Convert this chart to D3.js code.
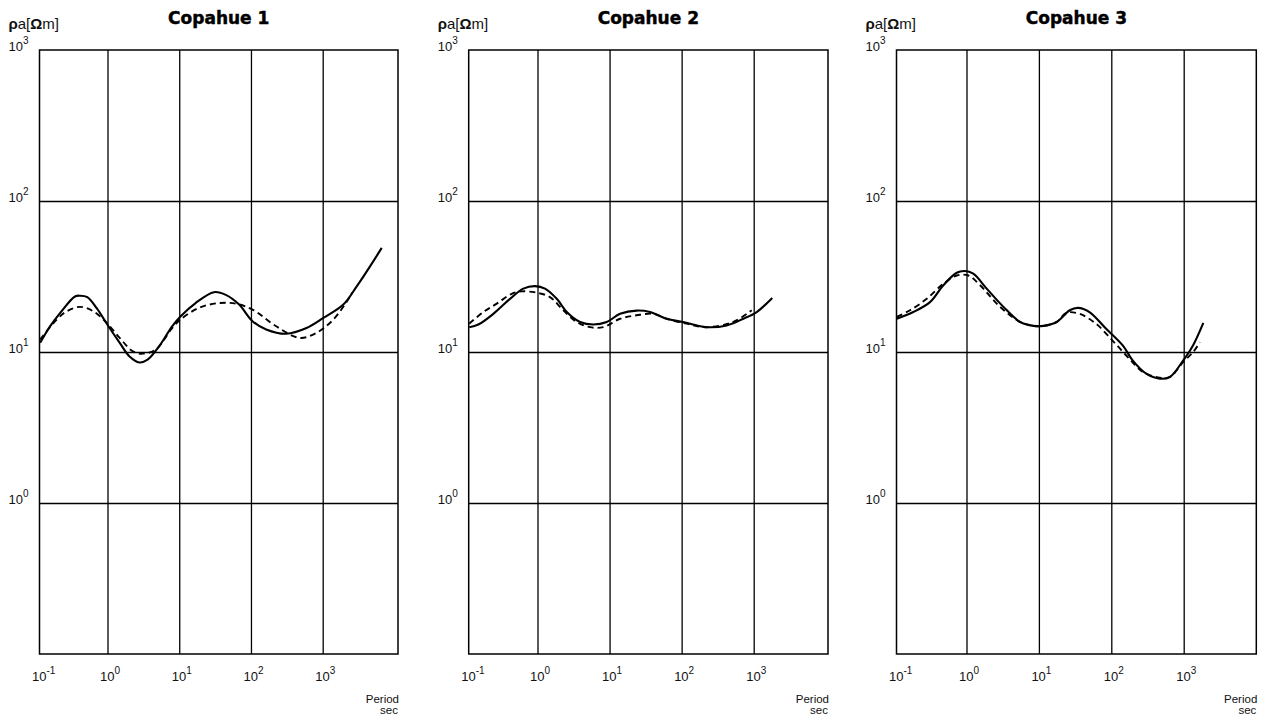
<!DOCTYPE html>
<html>
<head>
<meta charset="utf-8">
<script src="https://d3js.org/d3.v7.min.js"></script>
<style>
body { margin: 0; background: #fff; }
.grid line { stroke: #000; stroke-width: 1.3; }
.grid path { stroke-width: 0; }
.lbl { font-family: "Liberation Sans", Arial, sans-serif; fill: #111; }
.title { font-family: "DejaVu Sans", sans-serif; font-weight: bold; font-size: 17px; fill: #000; stroke: #000; stroke-width: 0.45; }
</style>
</head>
<body>
<svg id="chart" width="1262" height="722"></svg>
<script>
// station names
var titles = ["Copahue 1", "Copahue 2", "Copahue 3"];

// Copahue 1 - solid curve
var c1Period = [0.115, 0.158, 0.218, 0.352, 0.414, 0.523, 0.707, 1.03, 1.48, 2.03, 2.79, 3.62, 5.24, 7.96, 10.4, 16.9, 30.5, 44.6, 68.4, 105, 163, 311, 595, 1020, 1940, 2980, 4570, 6650];
var c1Rho    = [11.5, 14.8, 18.1, 23.3, 23.6, 23.1, 19.5, 14.8, 11.5, 9.35, 8.53, 8.89, 10.9, 14.8, 17.2, 21.1, 24.9, 23.9, 20.6, 16.0, 14.1, 13.2, 14.4, 16.8, 20.6, 27.2, 36.9, 48.9];
// Copahue 1 - dashed curve
var c1DPeriod = [0.115, 0.196, 0.270, 0.414, 0.634, 0.975, 1.48, 2.26, 3.09, 4.72, 7.96, 10.4, 18.8, 35.9, 61.5, 105, 225, 479, 822, 1406, 2400, 2560];
var c1DRho    = [12.1, 16.4, 18.6, 19.9, 18.6, 15.6, 12.4, 10.1, 9.75, 10.4, 14.4, 16.4, 19.6, 21.1, 20.9, 19.1, 14.8, 12.4, 13.4, 16.4, 23.3, 24.7];

// Copahue 2 - solid curve
var c2Period = [0.113, 0.151, 0.244, 0.415, 0.636, 0.923, 1.27, 1.85, 2.55, 3.89, 5.96, 9.14, 14.0, 23.8, 36.4, 62.0, 105, 222, 422, 718, 1100, 1810];
var c2Rho    = [14.6, 15.2, 17.9, 22.5, 26.3, 27.3, 26.3, 22.5, 18.4, 15.8, 15.2, 15.8, 17.9, 18.8, 18.4, 16.6, 15.8, 14.6, 15.0, 16.6, 18.4, 22.8];
// Copahue 2 - dashed curve
var c2DPeriod = [0.113, 0.177, 0.272, 0.439, 0.604, 0.975, 1.49, 2.28, 3.50, 5.36, 8.20, 14.0, 23.8, 40.5, 62.0, 117, 222, 521, 938];
var c2DRho    = [15.4, 18.4, 20.9, 24.3, 25.2, 24.7, 23.1, 18.9, 15.8, 14.6, 14.6, 16.6, 17.5, 17.9, 16.6, 15.4, 14.6, 15.8, 18.9];

// Copahue 3 - solid curve
var c3Period = [0.109, 0.184, 0.313, 0.479, 0.733, 0.95, 1.24, 1.90, 3.24, 5.51, 8.41, 11.6, 17.6, 26.7, 34.6, 49.9, 84.2, 143, 197, 304, 467, 644, 987, 1350, 1866];
var c3Rho    = [16.6, 18.4, 21.4, 27.7, 33.5, 34.4, 33.0, 26.3, 19.9, 15.8, 14.9, 14.9, 15.8, 18.9, 19.6, 18.4, 14.3, 11.1, 8.81, 7.19, 6.66, 6.83, 8.81, 11.1, 15.6];
// Copahue 3 - dashed curve
var c3DPeriod = [0.109, 0.166, 0.282, 0.479, 0.733, 1.06, 1.54, 2.91, 5.51, 8.41, 11.6, 17.6, 24.0, 36.5, 61.5, 104, 177, 272, 467, 644, 987, 1350, 1680];
var c3DRho    = [17.1, 18.9, 22.5, 28.3, 32.1, 32.1, 27.7, 19.9, 15.8, 14.9, 14.9, 15.8, 18.2, 17.9, 15.4, 11.9, 9.04, 7.38, 6.76, 6.83, 8.59, 10.0, 11.6];

// tick exponents
var xExps = [-1, 0, 1, 2, 3];
var yExps = [3, 2, 1, 0];

var series = [
  {solid: [c1Period, c1Rho], dash: [c1DPeriod, c1DRho]},
  {solid: [c2Period, c2Rho], dash: [c2DPeriod, c2DRho]},
  {solid: [c3Period, c3Rho], dash: [c3DPeriod, c3DRho]}
];

// plot boxes (pixels): frame edges and where 10^0 / 10^3 fall
var boxes = [
  {left: 39.5, right: 398, g0: 107.5, g3: 322.7},
  {left: 468.7, right: 828, g0: 537.5, g3: 753.7},
  {left: 896.5, right: 1256.3, g0: 966.5, g3: 1183.7}
];
var plotTop = 50, plotBottom = 654;

var svg = d3.select("#chart");

function zip(p, r) {
  return p.map(function(d, i) { return [d, r[i]]; });
}

boxes.forEach(function(b, k) {
  var x = d3.scaleLog().domain([1, 1000]).range([b.g0, b.g3]);
  var y = d3.scaleLog().domain([0.1, 1000]).range([plotBottom, plotTop]);
  var g = svg.append("g");

  // vertical grid
  g.append("g")
    .attr("class", "grid")
    .attr("transform", "translate(0," + plotBottom + ")")
    .call(d3.axisBottom(x).tickValues([1, 10, 100, 1000]).tickSize(-(plotBottom - plotTop)).tickFormat(""));

  // horizontal grid
  g.append("g")
    .attr("class", "grid")
    .attr("transform", "translate(" + b.left + ",0)")
    .call(d3.axisLeft(y).tickValues([1, 10, 100]).tickSize(-(b.right - b.left)).tickFormat(""));

  g.selectAll(".grid .domain").remove();

  // frame
  g.append("rect")
    .attr("x", b.left).attr("y", plotTop)
    .attr("width", b.right - b.left).attr("height", plotBottom - plotTop)
    .attr("fill", "none").attr("stroke", "#000").attr("stroke-width", 1.5);

  var line = d3.line()
    .x(function(d) { return x(d[0]); })
    .y(function(d) { return y(d[1]); })
    .curve(d3.curveCatmullRom.alpha(0.5));

  g.append("path")
    .datum(zip(series[k].dash[0], series[k].dash[1]))
    .attr("d", line)
    .attr("fill", "none").attr("stroke", "#000")
    .attr("stroke-width", 1.9).attr("stroke-dasharray", "6,4");

  g.append("path")
    .datum(zip(series[k].solid[0], series[k].solid[1]))
    .attr("d", line)
    .attr("fill", "none").attr("stroke", "#000")
    .attr("stroke-width", 2.1);

  // x tick labels ("10" centred on the grid line, 10^-1 at the frame edge)
  var xt = g.selectAll(".xt").data(xExps).enter().append("text")
    .attr("class", "lbl")
    .attr("x", function(d) { return (d < 0 ? b.left : x(Math.pow(10, d))) - 7.5; })
    .attr("y", 681)
    .attr("font-size", "13px");
  xt.append("tspan").text("10");
  xt.append("tspan").attr("dy", -7).attr("font-size", "10px").text(function(d) { return d; });

  // y tick labels
  var yt = g.selectAll(".yt").data(yExps).enter().append("text")
    .attr("class", "lbl")
    .attr("x", b.left - 11)
    .attr("y", function(d) { return y(Math.pow(10, d)) + 1; })
    .attr("font-size", "13px")
    .style("text-anchor", "end");
  yt.append("tspan").text("10");
  yt.append("tspan").attr("dy", -7).attr("font-size", "10px").text(function(d) { return d; });

  // unit label
  var u = g.append("text")
    .attr("class", "lbl")
    .attr("x", b.left - 31).attr("y", 28.5)
    .attr("font-size", "15px");
  u.append("tspan").attr("font-weight", "bold").text("ρ");
  u.append("tspan").text("a[");
  u.append("tspan").attr("font-weight", "bold").text("Ω");
  u.append("tspan").text("m]");

  // title
  g.append("text")
    .attr("class", "title")
    .attr("x", (b.left + b.right) / 2).attr("y", 24)
    .style("text-anchor", "middle")
    .text(titles[k]);

  // axis name
  g.append("text")
    .attr("class", "lbl")
    .attr("x", b.right + 1).attr("y", 703)
    .attr("font-size", "11.5px")
    .style("text-anchor", "end")
    .text("Period");
  g.append("text")
    .attr("class", "lbl")
    .attr("x", b.right).attr("y", 714)
    .attr("font-size", "11.5px")
    .style("text-anchor", "end")
    .text("sec");
});
</script>
</body>
</html>
